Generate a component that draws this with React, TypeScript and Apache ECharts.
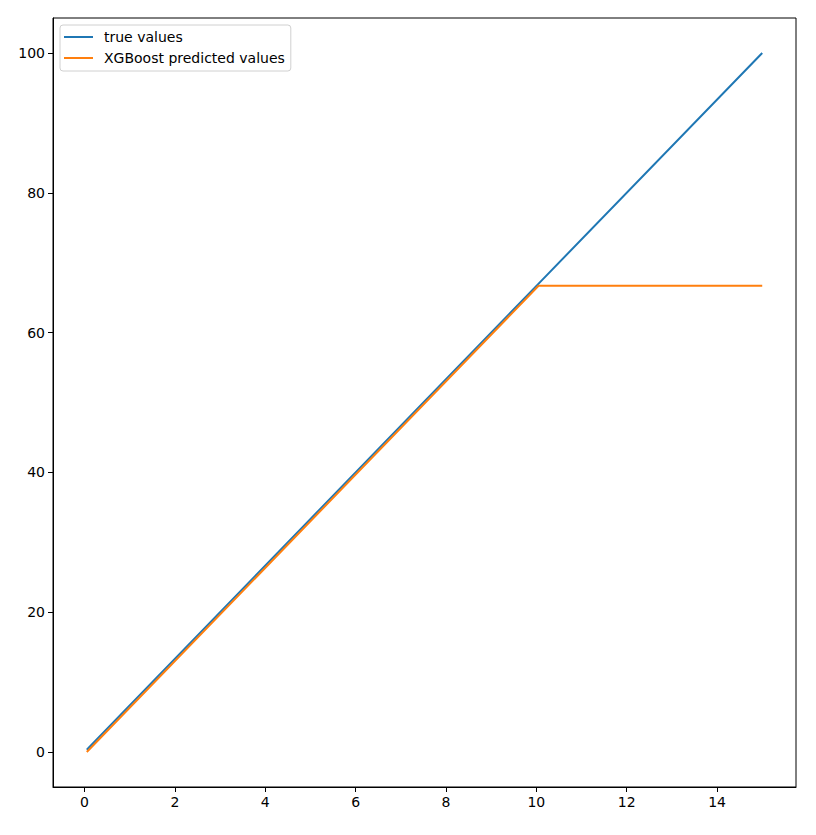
import React, { useEffect, useRef } from "react";
import * as echarts from "echarts";

const xTicks = [0, 2, 4, 6, 8, 10, 12, 14];
const yTicks = [0, 20, 40, 60, 80, 100];

const trueX = [0.05, 10.04, 15];
const trueY = [0.33, 66.93, 100];

const predX = [0.05, 10.05, 15];
const predY = [0.0, 66.7, 66.7];

const seriesNames = ["true values", "XGBoost predicted values"];
const colors = ["#1f77b4", "#ff7f0e"];

const FONT = "DejaVu Sans";

export default function App() {
  const ref = useRef<HTMLDivElement>(null);
  useEffect(() => {
    if (!ref.current) return;
    const chart = echarts.init(ref.current, null, { renderer: "svg" });
    const toPairs = (xs: number[], ys: number[]) => xs.map((x, i) => [x, ys[i]]);
    chart.setOption({
      animation: false,
      backgroundColor: "#fff",
      textStyle: { fontFamily: FONT },
      grid: {
        left: 53,
        top: 18,
        right: 20,
        bottom: 48,
        show: true,
        borderColor: "#000",
        borderWidth: 1,
        backgroundColor: "transparent",
      },
      legend: {
        orient: "vertical",
        left: 60,
        top: 25,
        backgroundColor: "#fff",
        borderColor: "#d0d0d0",
        borderWidth: 1,
        borderRadius: 3,
        padding: [5, 6, 6, 4],
        itemGap: 7,
        itemWidth: 29,
        itemHeight: 2,
        icon: "rect",
        textStyle: { fontFamily: FONT, fontSize: 14, color: "#000", padding: [0, 0, 0, 6] },
        data: seriesNames,
      },
      xAxis: {
        type: "value",
        min: -0.6975,
        max: 15.7475,
        splitLine: { show: false },
        axisLine: { show: true, onZero: false, lineStyle: { color: "#000" } },
        axisTick: { show: true, length: 5, lineStyle: { color: "#000" }, customValues: xTicks },
        axisLabel: {
          color: "#000",
          fontFamily: FONT,
          fontSize: 14,
          margin: 8,
          customValues: xTicks,
          showMinLabel: true,
          showMaxLabel: true,
        },
      },
      yAxis: {
        type: "value",
        min: -5,
        max: 105,
        splitLine: { show: false },
        axisLine: { show: true, onZero: false, lineStyle: { color: "#000" } },
        axisTick: { show: true, length: 5, lineStyle: { color: "#000" }, customValues: yTicks },
        axisLabel: {
          color: "#000",
          fontFamily: FONT,
          fontSize: 14,
          margin: 8,
          customValues: yTicks,
        },
      },
      series: [
        {
          name: seriesNames[0],
          type: "line",
          data: toPairs(trueX, trueY),
          showSymbol: false,
          symbol: "none",
          color: colors[0],
          lineStyle: { width: 2, color: colors[0] },
        },
        {
          name: seriesNames[1],
          type: "line",
          data: toPairs(predX, predY),
          showSymbol: false,
          symbol: "none",
          color: colors[1],
          lineStyle: { width: 2, color: colors[1] },
        },
      ],
    });
    return () => chart.dispose();
  }, []);
  return (
    <div
      ref={ref}
      style={{ position: "fixed", left: 0, top: 0, width: 816, height: 835 }}
    />
  );
}
